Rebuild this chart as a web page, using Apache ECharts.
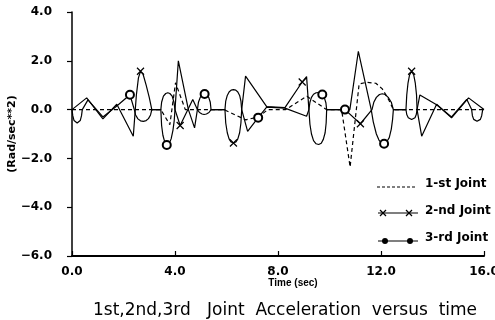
<!DOCTYPE html>
<html>
<head>
<meta charset="utf-8">
<script src="https://cdn.jsdelivr.net/npm/echarts@6/dist/echarts.min.js"></script>
<style>html,body{margin:0;padding:0;background:#fff}#c{width:495px;height:320px}</style>
</head>
<body>
<div id="c"></div>
<script>
// ---- data ----
const xTicks = [0, 4, 8, 12, 16];
const yTicks = [-6, -4, -2, 0, 2, 4];
const seriesNames = ['1-st Joint', '2-nd Joint', '3-rd Joint'];

// 1st joint (dashed)
const joint1 = [
  [0,0],[3.45,0],[3.8,-0.62],[4.02,1.1],[4.4,0],[5.9,0],[6.75,-0.42],[7.25,-0.3],[7.6,0],
  [8.3,0],[9.12,0.55],[9.88,0],[10.47,0],[10.8,-2.35],[11.15,1.05],[11.45,1.12],[11.8,1.08],
  [12.05,0.85],[12.3,0.4],[12.48,0],[16,0]
];
// 2nd joint (x markers)
const joint2 = [
  [0,0],[0.57,0.48],[1.2,-0.38],[1.74,0.22],[2.38,-1.09],[2.5,0.6],[2.58,1.3],[2.66,1.57],
  [2.76,1.45],[2.88,1.0],[3.0,0.5],[3.1,0],[3.45,0],[3.48,0.3],[3.55,0.55],[3.64,0.66],[3.72,0.69],
  [3.8,0.66],[3.89,0.55],[3.96,0.3],[4.0,0],[4.2,-0.65],[4.69,0.41],[4.87,0],[4.95,-0.12],
  [5.05,-0.18],[5.13,-0.2],[5.22,-0.18],[5.32,-0.12],[5.4,0],[5.94,0],[5.97,-0.55],[6.03,-0.95],
  [6.1,-1.2],[6.18,-1.33],[6.27,-1.37],[6.36,-1.33],[6.44,-1.2],[6.51,-0.95],[6.56,-0.55],[6.59,0],
  [6.74,1.37],[7.56,0.12],[8.27,0.08],[8.94,1.13],[9.11,1.35],[9.2,0],[9.24,-0.6],[9.3,-1.0],
  [9.38,-1.27],[9.48,-1.4],[9.58,-1.43],[9.68,-1.38],[9.76,-1.22],[9.83,-0.95],[9.87,-0.55],[9.89,0],
  [10.6,0],[11.2,-0.58],[11.65,0],[11.72,0.3],[11.82,0.5],[11.94,0.62],[12.05,0.65],[12.16,0.62],
  [12.28,0.5],[12.4,0.3],[12.48,0],[12.97,0],[13.0,0.6],[13.05,1.1],[13.11,1.42],[13.19,1.57],
  [13.27,1.42],[13.33,1.1],[13.38,0.6],[13.4,0],[13.58,-1.09],[14.16,0.22],[14.74,-0.34],
  [15.4,0.48],[16,0]
];
const joint2Marks = [2.66, 4.2, 6.27, 8.94, 11.2, 13.19];
// 3rd joint (circle markers)
const joint3 = [
  [0,0],[0.03,-0.25],[0.08,-0.45],[0.14,-0.53],[0.2,-0.55],[0.26,-0.53],[0.32,-0.45],[0.37,-0.25],
  [0.4,0],[0.62,0.4],[1.2,-0.3],[1.74,0.15],[2.25,0.61],[2.42,0],[2.47,-0.22],[2.56,-0.38],
  [2.66,-0.46],[2.77,-0.48],[2.88,-0.45],[2.97,-0.37],[3.05,-0.22],[3.1,0],[3.45,0],[3.48,-0.65],
  [3.53,-1.05],[3.6,-1.32],[3.68,-1.45],[3.77,-1.4],[3.85,-1.2],[3.92,-0.85],[3.97,-0.45],[4.0,0],
  [4.13,2.0],[4.52,0],[4.76,-0.75],[4.87,0],[4.91,0.3],[4.98,0.5],[5.06,0.61],[5.15,0.64],
  [5.24,0.6],[5.31,0.5],[5.37,0.3],[5.4,0],[5.94,0],[5.97,0.35],[6.03,0.58],[6.1,0.72],[6.18,0.8],
  [6.27,0.82],[6.36,0.8],[6.44,0.72],[6.51,0.58],[6.56,0.35],[6.59,0],[6.82,-0.89],[7.23,-0.33],
  [7.56,0.1],[8.27,0.06],[9.11,-0.27],[9.2,0],[9.24,0.3],[9.3,0.5],[9.38,0.63],[9.48,0.69],
  [9.58,0.7],[9.72,0.62],[9.8,0.48],[9.86,0.28],[9.89,0],[10.6,0],[10.79,0],[11.12,2.39],
  [11.62,0],[11.7,-0.5],[11.82,-1.0],[11.92,-1.25],[12.02,-1.37],[12.12,-1.4],[12.22,-1.33],
  [12.32,-1.15],[12.4,-0.8],[12.45,-0.4],[12.48,0],[12.97,0],[13.0,-0.2],[13.06,-0.33],
  [13.12,-0.39],[13.19,-0.41],[13.26,-0.39],[13.32,-0.33],[13.37,-0.2],[13.4,0],[13.51,0.6],
  [14.16,0.2],[14.74,-0.3],[15.33,0.42],[15.52,0],[15.55,-0.25],[15.6,-0.4],[15.66,-0.47],
  [15.73,-0.48],[15.8,-0.47],[15.86,-0.4],[15.91,-0.25],[15.95,0],[16,0]
];
const joint3Marks = [2.25, 3.68, 5.15, 7.23, 9.72, 10.6, 12.12];

// ---- chart ----
const X_PATH = 'path://M0,0L10,10M10,0L0,10';
function withMarks(arr, marks, sym, size) {
  return arr.map(p => marks.indexOf(p[0]) >= 0 ? {value: p, symbol: sym, symbolSize: size} : p);
}
const fmt = v => (v < 0 ? '\u2212' : '') + Math.abs(v).toFixed(1);
const chart = echarts.init(document.getElementById('c'));
const lbl = {fontFamily: 'DejaVu Sans', fontWeight: 'bold', fontSize: 12, color: '#000'};
chart.setOption({
  animation: false,
  backgroundColor: '#fff',
  grid: {left: 72, right: 11, top: 12, bottom: 64, containLabel: false, outerBoundsMode: 'none'},
  xAxis: {
    type: 'value', min: xTicks[0], max: xTicks[xTicks.length - 1], interval: 4,
    name: 'Time (sec)', nameLocation: 'middle', nameGap: 22, nameMoveOverlap: false,
    nameTextStyle: {fontFamily: "'Liberation Sans Narrow','Liberation Sans'", fontWeight: 'bold', fontSize: 10, color: '#000', padding: [0, 0, 0, 30]},
    axisLine: {show: true, onZero: false, lineStyle: {color: '#000', width: 2}},
    axisTick: {show: true, inside: true, length: 5, lineStyle: {color: '#000', width: 1.2}},
    axisLabel: Object.assign({margin: 10, formatter: fmt}, lbl),
    splitLine: {show: false}
  },
  yAxis: {
    type: 'value', min: yTicks[0], max: yTicks[yTicks.length - 1], interval: 2,
    name: '(Rad/sec**2)', nameLocation: 'middle', nameGap: 54, nameMoveOverlap: false,
    nameTextStyle: {fontFamily: 'DejaVu Sans', fontWeight: 'bold', fontSize: 11, color: '#000'},
    axisLine: {show: true, onZero: false, lineStyle: {color: '#000', width: 1.5}},
    axisTick: {show: true, inside: false, length: 5, lineStyle: {color: '#000', width: 1.2}},
    axisLabel: Object.assign({margin: 20, formatter: fmt}, lbl),
    splitLine: {show: false}
  },
  title: {
    text: '1st,2nd,3rd   Joint  Acceleration  versus  time',
    left: 88, top: 297,
    textStyle: {fontFamily: 'DejaVu Sans', fontWeight: 'normal', fontSize: 17, color: '#000'}
  },
  series: [
    {name: seriesNames[0], type: 'line', symbol: 'none', data: joint1,
     lineStyle: {color: '#000', width: 1.2, type: [4, 3]}, z: 2},
    {name: seriesNames[1], type: 'line', symbol: 'none',
     data: withMarks(joint2, joint2Marks, X_PATH, 7),
     itemStyle: {color: '#000', borderColor: '#000', borderWidth: 1.2},
     lineStyle: {color: '#000', width: 1.2}, z: 3},
    {name: seriesNames[2], type: 'line', symbol: 'none',
     data: withMarks(joint3, joint3Marks, 'emptyCircle', 8),
     itemStyle: {color: '#000', borderColor: '#000', borderWidth: 1.2},
     lineStyle: {color: '#000', width: 1.2}, z: 4}
  ],
  graphic: [
    {type: 'line', shape: {x1: 377, y1: 187, x2: 417, y2: 187}, style: {stroke: '#000', lineWidth: 1.2, lineDash: [3, 2]}},
    {type: 'text', x: 425, y: 184, style: {text: seriesNames[0], font: 'bold 12px "DejaVu Sans"', fill: '#000', verticalAlign: 'middle'}},
    {type: 'line', shape: {x1: 378, y1: 213, x2: 418, y2: 213}, style: {stroke: '#000', lineWidth: 1.2}},
    {type: 'polyline', shape: {points: [[380, 210], [386, 216]]}, style: {stroke: '#000', lineWidth: 1.2}},
    {type: 'polyline', shape: {points: [[380, 216], [386, 210]]}, style: {stroke: '#000', lineWidth: 1.2}},
    {type: 'polyline', shape: {points: [[406, 210], [412, 216]]}, style: {stroke: '#000', lineWidth: 1.2}},
    {type: 'polyline', shape: {points: [[406, 216], [412, 210]]}, style: {stroke: '#000', lineWidth: 1.2}},
    {type: 'text', x: 425, y: 211, style: {text: seriesNames[1], font: 'bold 12px "DejaVu Sans"', fill: '#000', verticalAlign: 'middle'}},
    {type: 'line', shape: {x1: 378, y1: 241, x2: 418, y2: 241}, style: {stroke: '#000', lineWidth: 1.2}},
    {type: 'circle', shape: {cx: 385, cy: 241, r: 3}, style: {fill: '#000'}},
    {type: 'circle', shape: {cx: 410, cy: 241, r: 3}, style: {fill: '#000'}},
    {type: 'text', x: 425, y: 238, style: {text: seriesNames[2], font: 'bold 12px "DejaVu Sans"', fill: '#000', verticalAlign: 'middle'}}
  ]
});
</script>
</body>
</html>
